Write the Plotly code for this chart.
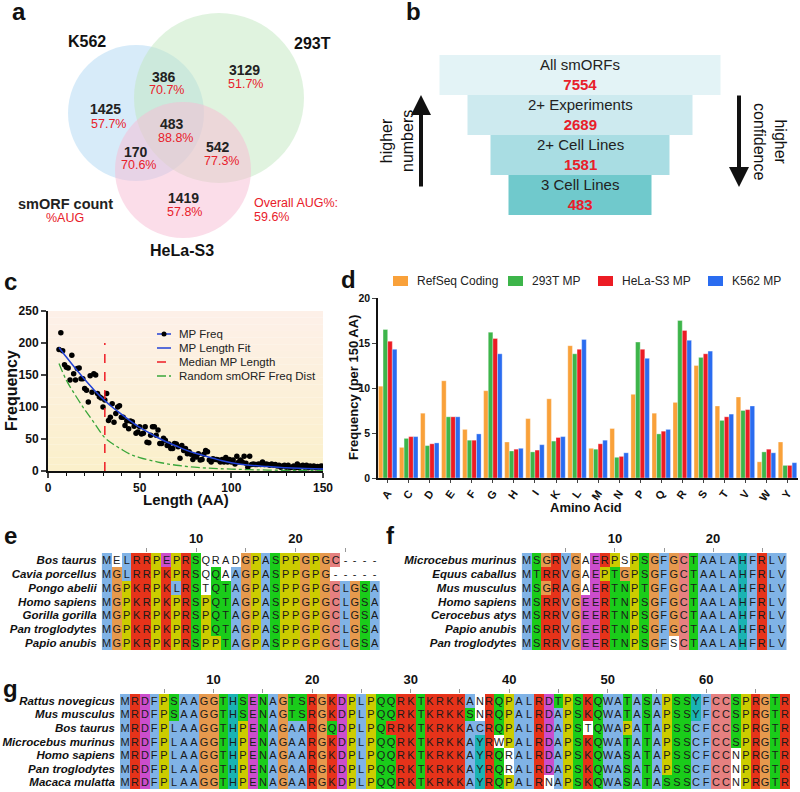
import plotly.graph_objects as go

W, H = 800, 792
def fx(px): return px / W
def fy(py): return 1 - py / H

FONT = "Liberation Sans, Arial, Helvetica, sans-serif"
RED_TXT = "#e8202a"
DARK = "#1a1a1a"

# ---------------- data ----------------
# (a) Venn
venn_sets = ["K562", "293T", "HeLa-S3"]
venn_regions = ["K562 only", "293T only", "HeLa-S3 only", "K562+293T", "K562+HeLa-S3", "293T+HeLa-S3", "all"]
venn_counts = [1425, 3129, 1419, 386, 170, 542, 483]
venn_aug_pct = [57.7, 51.7, 57.8, 70.7, 70.6, 77.3, 88.8]
overall_aug_pct = 59.6

# (b) funnel
funnel_stages = ["All smORFs", "2+ Experiments", "2+ Cell Lines", "3 Cell Lines"]
funnel_counts = [7554, 2689, 1581, 483]

# (c) length distribution
mp_lengths = list(range(6, 151))
mp_freq = [190, 216, 188, 166, 162, 161, 142, 181, 152, 142,
           160, 161, 144, 144, 129, 126, 108, 149, 123, 152,
           150, 121, 116, 114, 100, 111, 121, 79, 84, 105,
           76, 90, 100, 102, 84, 84, 71, 78, 66, 78,
           77, 70, 59, 61, 69, 58, 59, 69, 45, 44,
           56, 69, 69, 56, 64, 43, 43, 51, 48, 40,
           42, 35, 35, 43, 42, 38, 20, 40, 32, 35,
           27, 30, 26, 18, 24, 22, 27, 17, 18, 26,
           32, 30, 17, 14, 19, 18, 18, 17, 14, 18,
           14, 21, 14, 18, 14, 17, 11, 23, 14, 17,
           14, 23, 12, 6, 23, 10, 11, 10, 10, 11,
           10, 14, 10, 11, 10, 9, 11, 9, 10, 8,
           9, 6, 8, 9, 6, 9, 5, 6, 8, 5,
           11, 5, 8, 9, 6, 9, 5, 8, 6, 8,
           5, 7, 6, 8, 5]
fit_lengths = [6, 10, 15, 20, 25, 31, 35, 40, 45, 50, 55, 60, 65, 70, 75, 80, 85, 90, 95, 100, 110, 120, 130, 140, 150]
fit_freq = [193, 178, 160, 143, 127, 110, 100, 89, 78, 68, 60, 52, 45, 39, 33, 28, 24, 20, 16, 13, 9, 7, 5, 4, 3]
random_lengths = [6, 10, 15, 20, 25, 31, 35, 40, 45, 50, 60, 70, 80, 90, 100, 110, 120, 130, 140, 150]
random_freq = [168, 142, 118, 96, 76, 52, 43, 34, 26, 21, 14, 9, 6, 4, 3, 2, 1.5, 1, 1, 0.5]
median_mp_length = 31
median_line_top = 200
c_legend_names = ["MP Freq", "MP Length Fit", "Median MP Length", "Random smORF Freq Dist"]

# (d) amino-acid composition
amino_acids = list("ACDEFGHIKLMNPQRSTVWY")
refseq_coding = [10.2, 3.4, 7.2, 10.8, 5.4, 9.7, 4.0, 6.6, 8.8, 14.7, 3.3, 5.5, 9.3, 7.2, 8.4, 12.5, 8.0, 9.0, 1.8, 4.0]
mp_293t = [16.5, 4.4, 3.6, 6.8, 4.2, 16.2, 3.0, 2.9, 4.1, 13.8, 3.2, 2.3, 15.1, 4.9, 17.5, 13.4, 6.4, 7.5, 2.9, 1.4]
mp_hela = [15.2, 4.6, 3.8, 6.8, 4.2, 15.5, 3.2, 3.1, 4.5, 14.3, 3.8, 2.4, 14.3, 5.2, 16.4, 13.8, 6.8, 7.6, 3.2, 1.4]
mp_k562 = [14.3, 4.6, 3.9, 6.8, 4.9, 13.8, 3.3, 3.7, 4.6, 15.4, 4.2, 2.8, 13.3, 5.4, 15.3, 14.1, 7.1, 8.0, 2.8, 1.7]
d_series_names = ["RefSeq Coding", "293T MP", "HeLa-S3 MP", "K562 MP"]

# (e,f,g) alignments
e_species = ["Bos taurus", "Cavia porcellus", "Pongo abelii", "Homo sapiens",
             "Gorilla gorilla", "Pan troglodytes", "Papio anubis"]
e_seqs = ["MELRRPEPRSQRADGPASPPGPGC----",
          "MGLRRPKPRSQQAAGPASPPGPG-----",
          "MGPKRPKLRSTQTAGPASPPGPGCLGSA",
          "MGPKRPKPRSPQTAGPASPPGPGCLGSA",
          "MGPKRPKPRSPQTAGPASPPGPGCLGSA",
          "MGPKRPKPRSPQTAGPASPPGPGCLGSA",
          "MGPKRPKPRSPPTAGPASPPGPGCLGSA"]
f_species = ["Microcebus murinus", "Equus caballus", "Mus musculus", "Homo sapiens",
             "Cerocebus atys", "Papio anubis", "Pan troglodytes"]
f_seqs = ["MSGRVGAERPSPSGFGCTAALAHFRLV",
          "MTRRVGAEPTGPSGFGCTAALAHFRLV",
          "MSGRAGAERTNPTGFGCTAALAHFRLV",
          "MSRRVGEERTNPSGFGCTAALAHFRLV",
          "MSRRVGEERTNPSGFGCTAALAHFRLV",
          "MSRRVGEERTNPSGFGCTAALAHFRLV",
          "MSRRVGEERTNPSGFSCTAALAHFRLV"]
g_species = ["Rattus novegicus", "Mus musculus", "Bos taurus", "Microcebus murinus",
             "Homo sapiens", "Pan troglodytes", "Macaca mulatta"]
g_seqs = ["MRDFPSAAGGTHSENAGTSRGKDPLPQQRKTKRKKANRQPALRDTPSKQWATASAPSSYFCCSPRGTR",
          "MRDFPSAAGGTHSENAGTSRGKDPLPQQRKTKRKKSNRQPALRDAPSKQWATASAPSSYFCCSPRGTR",
          "MRDFPLAAGGTHPENAGAARGQDPLPQRRKTKRKKACRQPALRDAPSTQWAPATAPSSCFCCSPRGTR",
          "MRDFPLAAGGTHPENAGAARGKDPLPQQRKTKRKKAYRWPALRDAPSKQWATATAPSSCFCCSPRGTR",
          "MRDFPLAAGGTHPENAGAARGKDPLPQQRKTKRKKAYRQRALRDAPSKQWASATAPSSCFCCNPRGTR",
          "MRDFPLAAGGTHPENAGAARGKDPLPQQRKTKRKKAYRQRALRDAPSKQWASATAPSSCFCCNPRGTR",
          "MRDFPLAAGGTHPENAGAARGKDPLPQQRKTKRKKAYRQPALRNAPSKQWASATASSSCFCCNPRGTR"]

# ---------------- ClustalX colouring ----------------
CLX_NAMES = [None, "blue", "red", "green", "magenta", "pink", "orange", "yellow", "cyan"]
CLX_COLORS = ["#ffffff", "#80b3e6", "#e6331a", "#1acc1a", "#cc4dcc", "#e68080", "#e6994d", "#cccc00", "#1ab3b3"]


def clustal_colour(res, column):
    n = len(column)
    pct = {}
    for a in column:
        pct[a] = pct.get(a, 0) + 100.0 / n
    def grp(g): return sum(pct.get(a, 0) for a in g)
    def any85(g): return any(pct.get(a, 0) > 85 for a in g)
    hyd = grp("WLVIMAFCHPY") > 60
    kr = grp("KR") > 60
    qe = grp("QE") > 50
    ed = grp("ED") > 50
    ts = grp("TS") > 50
    if res in "AILMFWV":
        return "blue" if hyd else None
    if res == "C":
        if pct.get("C", 0) > 85:
            return "pink"
        return "blue" if hyd else None
    if res in "KR":
        return "red" if (kr or any85("KRQ")) else None
    if res == "E":
        return "magenta" if (kr or qe or any85("EQD")) else None
    if res == "D":
        return "magenta" if (kr or any85("KRQ") or ed) else None
    if res == "N":
        return "green" if pct.get("N", 0) > 50 else None
    if res == "Q":
        return "green" if (kr or qe or any85("QEKR")) else None
    if res in "ST":
        return "green" if (hyd or ts or any85("ST")) else None
    if res == "G":
        return "orange"
    if res == "P":
        return "yellow"
    if res in "HY":
        return "cyan" if (hyd or any85("WYACPQFHILMV")) else None
    return None


def alignment_trace(seqs, xa, ya):
    ncol = len(seqs[0])
    z, txt = [], []
    for s in seqs:
        row = []
        for c, ch in enumerate(s):
            col = [q[c] for q in seqs]
            row.append(CLX_NAMES.index(clustal_colour(ch, col)))
        z.append(row)
        txt.append(list(s))
    cs = [[i / 8.0, CLX_COLORS[i]] for i in range(9)]
    return go.Heatmap(z=z, x=list(range(1, ncol + 1)), y=list(range(len(seqs))),
                      text=txt, texttemplate="%{text}",
                      textfont=dict(family=FONT, size=11, color=DARK),
                      colorscale=cs, zmin=0, zmax=8, showscale=False,
                      xgap=0, ygap=0, hoverinfo="skip", xaxis=xa, yaxis=ya)


fig = go.Figure()

# ---------------- (c) ----------------
C_BLUE = "#2142d6"
C_RED = "#ee1c25"
C_GREEN = "#3aa63a"
fig.add_trace(go.Scatter(x=mp_lengths, y=mp_freq, mode="markers",
                         marker=dict(color="black", size=5.5), showlegend=False,
                         xaxis="x", yaxis="y"))
fig.add_trace(go.Scatter(x=fit_lengths, y=fit_freq, mode="lines", showlegend=False,
                         line=dict(color=C_BLUE, width=1.5, shape="spline"),
                         xaxis="x", yaxis="y"))
fig.add_trace(go.Scatter(x=[median_mp_length, median_mp_length], y=[0, median_line_top], mode="lines",
                         showlegend=False, line=dict(color=C_RED, width=1.5, dash="dash"),
                         xaxis="x", yaxis="y"))
fig.add_trace(go.Scatter(x=random_lengths, y=random_freq, mode="lines", showlegend=False,
                         line=dict(color=C_GREEN, width=1.3, dash="dashdot", shape="spline"),
                         xaxis="x", yaxis="y"))

# ---------------- (d) ----------------
D_COLORS = ["#f9a13a", "#3db54a", "#ec1c24", "#2a6cf0"]
for name, vals, col in zip(d_series_names, [refseq_coding, mp_293t, mp_hela, mp_k562], D_COLORS):
    fig.add_trace(go.Bar(x=amino_acids, y=vals, name=name, marker=dict(color=col,
                         line=dict(color="rgba(255,255,255,0.55)", width=0.6)),
                         showlegend=False, xaxis="x2", yaxis="y2"))

# ---------------- (e,f,g) ----------------
fig.add_trace(alignment_trace(e_seqs, "x3", "y3"))
fig.add_trace(alignment_trace(f_seqs, "x4", "y4"))
fig.add_trace(alignment_trace(g_seqs, "x5", "y5"))

# ---------------- (a) placeholder trace for venn axes ----------------
fig.add_trace(go.Scatter(x=[None], y=[None], xaxis="x6", yaxis="y6", showlegend=False))

# ---------------- (b) funnel bars ----------------
funnel_colors = ["#e3f3f6", "#cdeaef", "#a9dde3", "#70c9cc"]
funnel_widths = [281, 225, 179, 143]
fig.add_trace(go.Bar(y=funnel_stages, x=funnel_widths, base=[-w / 2 for w in funnel_widths],
                     orientation="h", width=1, marker=dict(color=funnel_colors, line=dict(width=0)),
                     showlegend=False, hoverinfo="skip", xaxis="x7", yaxis="y7"))

# ---------------- layout ----------------
hidden = dict(visible=False, showgrid=False, zeroline=False)
ann = []
shapes = []

def paper_text(txt, x, y, size, xanchor="center", angle=0, color="#111"):
    ann.append(dict(text=txt, x=fx(x), y=fy(y), xref="paper", yref="paper", showarrow=False,
                    xanchor=xanchor, yanchor="middle", textangle=angle,
                    font=dict(family=FONT, size=size, color=color)))

for t, x, y in [("a", 19, 12), ("b", 413, 12), ("c", 10, 281), ("d", 348, 279),
                ("e", 10, 535), ("f", 390, 535), ("g", 10, 688)]:
    paper_text(f"<b>{t}</b>", x, y, 24)

# (a) Venn circles
circles = [(136, 113, 68, "rgba(175,215,243,0.5)"),
           (219, 98, 85, "rgba(193,231,191,0.5)"),
           (183, 170, 68, "rgba(247,187,211,0.5)")]
for cx, cy, r, col in circles:
    shapes.append(dict(type="circle", xref="x6", yref="y6", x0=cx - r, x1=cx + r, y0=cy - r, y1=cy + r,
                       fillcolor=col, line=dict(width=0), layer="below"))
venn_count_pos = [(105, 109), (244, 70), (183, 198), (164, 77), (136, 152), (218, 147), (172, 124)]
venn_pct_pos = [(108, 124), (245, 84), (184, 212), (166, 90), (138, 165), (221, 161), (175, 138)]

def venn_text(txt, x, y, size, color, xanchor="center"):
    ann.append(dict(text=txt, x=x, y=y, xref="x6", yref="y6", showarrow=False, xanchor=xanchor,
                    yanchor="middle", font=dict(family=FONT, size=size, color=color)))

for (x, y), cnt in zip(venn_count_pos, venn_counts):
    venn_text(f"<b>{cnt}</b>", x, y, 14, "#222")
for (x, y), p in zip(venn_pct_pos, venn_aug_pct):
    venn_text(f"{p:.1f}%", x, y, 12.5, RED_TXT)
for name, (x, y) in zip(venn_sets, [(87, 41), (312, 43), (182, 250)]):
    venn_text(f"<b>{name}</b>", x, y, 16, "#111")
venn_text("<b>smORF count</b>", 65, 204, 14.5, "#222")
venn_text("%AUG", 65, 218, 12.5, RED_TXT)
venn_text("Overall AUG%:", 252, 203, 12.5, RED_TXT, "left")
venn_text(f"{overall_aug_pct:.1f}%", 252, 217, 12.5, RED_TXT, "left")

# (b) funnel texts and arrows
for st, cnt in zip(funnel_stages, funnel_counts):
    ann.append(dict(text=f"{st}<br><span style='color:{RED_TXT}'><b>{cnt}</b></span>",
                    x=0, y=st, xref="x7", yref="y7", showarrow=False, xanchor="center", yanchor="middle",
                    font=dict(family=FONT, size=15, color="#222")))
ann.append(dict(text="", x=fx(421), y=fy(95), xref="paper", yref="paper", showarrow=True,
                ax=0, ay=93, arrowhead=2, arrowsize=1, arrowwidth=4, arrowcolor="#111"))
ann.append(dict(text="", x=fx(739), y=fy(187), xref="paper", yref="paper", showarrow=True,
                ax=0, ay=-93, arrowhead=2, arrowsize=1, arrowwidth=4, arrowcolor="#111"))
paper_text("higher<br>numbers", 397, 141, 16, angle=-90)
paper_text("higher<br>confidence", 770, 141, 16, angle=90)

# (c) gradient background
nb = 24
top = (253, 240, 233)
bot = (251, 240, 202)
for i in range(nb):
    t = (i + 0.5) / nb
    c = tuple(int(round(bot[k] + (top[k] - bot[k]) * t)) for k in range(3))
    shapes.append(dict(type="rect", xref="x domain", yref="y domain", x0=0, x1=1,
                       y0=i / nb, y1=(i + 1) / nb, fillcolor=f"rgb{c}", line=dict(width=0), layer="below"))

# (c) legend (compact, as in the reference)
leg_y = [334, 348, 362, 376]
leg_styles = [(C_BLUE, "solid"), (C_BLUE, "solid"), (C_RED, "dash"), (C_GREEN, "dashdot")]
for name, yy, (col, dash) in zip(c_legend_names, leg_y, leg_styles):
    shapes.append(dict(type="line", xref="paper", yref="paper", x0=fx(157), x1=fx(171),
                       y0=fy(yy), y1=fy(yy), line=dict(color=col, width=1.5, dash=dash)))
    paper_text(name, 177, yy, 11.5, xanchor="left", color="#222")
shapes.append(dict(type="circle", xref="paper", yref="paper", x0=fx(161.5), x1=fx(166.5),
                   y0=fy(leg_y[0] + 2.5), y1=fy(leg_y[0] - 2.5), fillcolor="black", line=dict(width=0)))

# (d) legend (one row, as in the reference)
d_leg_x = [393, 508, 598, 708]
for name, xx, col in zip(d_series_names, d_leg_x, D_COLORS):
    shapes.append(dict(type="rect", xref="paper", yref="paper", x0=fx(xx), x1=fx(xx + 15),
                       y0=fy(286), y1=fy(276), fillcolor=col, line=dict(width=0)))
    paper_text(name, xx + 22, 281, 12, xanchor="left", color="#222")

# axis titles
paper_text("<b>Frequency</b>", 11, 391, 16, angle=-90)
paper_text("<b>Length (AA)</b>", 186, 500, 15)
paper_text("<b>Frequency (per 150 AA)</b>", 354, 388, 13, angle=-90)
paper_text("<b>Amino Acid</b>", 586, 507, 13)

tickfont_b = dict(family=FONT, size=12, color="#111", weight="bold")

def aln_axes(seqs, species, xdom, ydom, anchor_x, anchor_y):
    n = len(seqs[0])
    tv = list(range(5, n + 1, 5))
    xa = dict(domain=xdom, anchor=anchor_y, side="top", range=[0.5, n + 0.5],
              tickvals=tv, ticktext=[str(v) if v % 10 == 0 else "" for v in tv],
              ticks="outside", ticklen=4, tickcolor="#999", tickwidth=1,
              tickfont=dict(family=FONT, size=13, color="#111", weight="bold"),
              showgrid=False, zeroline=False, showline=False)
    ya = dict(domain=ydom, anchor=anchor_x, range=[len(seqs) - 0.5, -0.5],
              tickvals=list(range(len(seqs))), ticktext=[f"<b><i>{s}</i></b>" for s in species],
              tickfont=dict(family=FONT, size=11.5, color="#111"), ticks="", ticklabelstandoff=4,
              showgrid=False, zeroline=False, showline=False)
    return xa, ya

xa3, ya3 = aln_axes(e_seqs, e_species, [fx(101.7), fx(380)], [fy(650), fy(553)], "x3", "y3")
xa4, ya4 = aln_axes(f_seqs, f_species, [fx(521.7), fx(786.7)], [fy(650), fy(553)], "x4", "y4")
xa5, ya5 = aln_axes(g_seqs, g_species, [fx(120), fx(790)], [fy(789), fy(694)], "x5", "y5")

fig.update_layout(
    width=W, height=H, autosize=False,
    margin=dict(l=0, r=0, t=0, b=0, autoexpand=False),
    paper_bgcolor="white", plot_bgcolor="white",
    font=dict(family=FONT, color="#111"),
    showlegend=False,
    barmode="group", bargap=0.12, bargroupgap=0,
    xaxis=dict(domain=[fx(48), fx(323)], anchor="y", range=[0, 150], tickvals=[0, 50, 100, 150],
               ticks="outside", ticklen=5, tickwidth=1.5, showline=True, linewidth=2, linecolor="#111",
               minor=dict(dtick=10, ticks="outside", ticklen=3, tickwidth=1, tickcolor="#111"),
               tickfont=tickfont_b, showgrid=False, zeroline=False),
    yaxis=dict(domain=[fy(471), fy(311)], anchor="x", range=[0, 250], tickvals=[0, 50, 100, 150, 200, 250],
               ticks="outside", ticklen=5, tickwidth=1.5, showline=True, linewidth=2, linecolor="#111",
               tickfont=tickfont_b, showgrid=False, zeroline=False),
    xaxis2=dict(domain=[fx(378), fx(798)], anchor="y2", range=[-0.46, 19.5],
                ticks="outside", ticklen=3, tickangle=-55, showline=True, linewidth=1.5, linecolor="#111",
                tickfont=dict(family=FONT, size=11, color="#111", weight="bold"), showgrid=False),
    yaxis2=dict(domain=[fy(478), fy(298)], anchor="x2", range=[0, 20], tickvals=[0, 5, 10, 15, 20],
                ticks="outside", ticklen=4, showline=True, linewidth=1.5, linecolor="#111",
                tickfont=dict(family=FONT, size=10.5, color="#111", weight="bold"),
                showgrid=False, zeroline=False),
    xaxis3=xa3, yaxis3=ya3, xaxis4=xa4, yaxis4=ya4, xaxis5=xa5, yaxis5=ya5,
    xaxis6=dict(domain=[0, 0.5], anchor="y6", range=[0, 400], **hidden),
    yaxis6=dict(domain=[fy(270), 1], anchor="x6", range=[270, 0], **hidden),
    xaxis7=dict(domain=[0.5, 1], anchor="y7", range=[-180, 220], **hidden),
    yaxis7=dict(domain=[fy(215), fy(55)], anchor="x7", range=[3.5, -0.5], type="category", **hidden),
    annotations=ann, shapes=shapes,
)

fig.write_html("out.html", config={"displayModeBar": False},
               post_script="document.body.style.margin='0';document.body.style.overflow='hidden';")
